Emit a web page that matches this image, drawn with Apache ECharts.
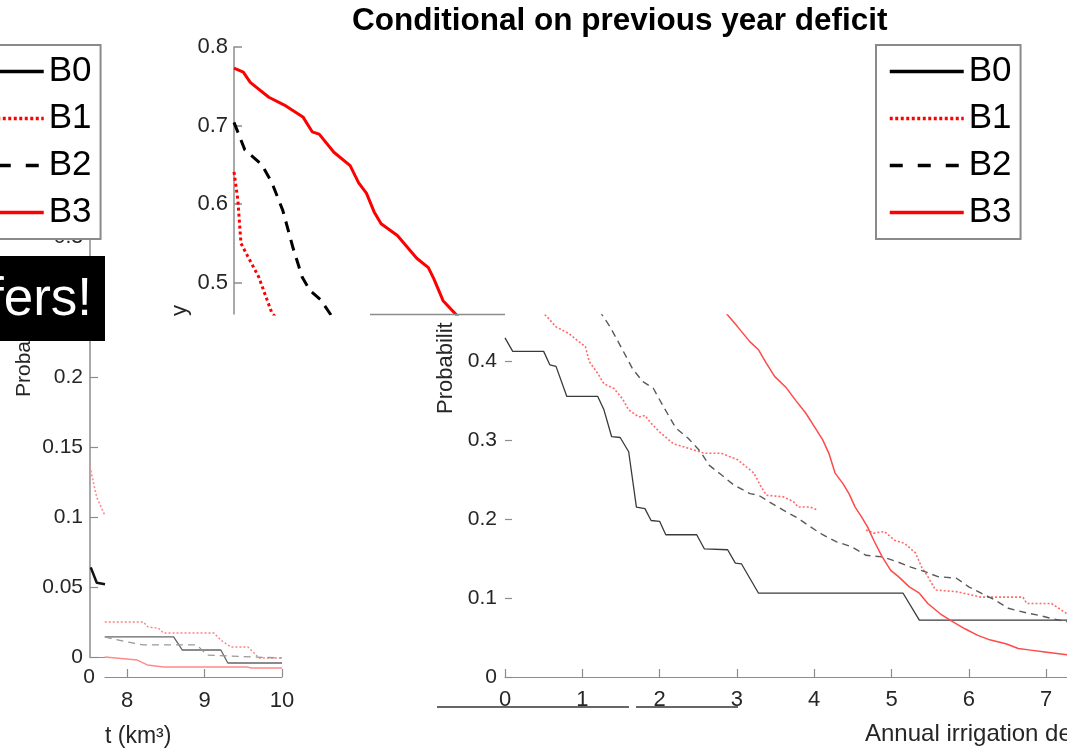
<!DOCTYPE html>
<html><head><meta charset="utf-8">
<script src="https://cdn.jsdelivr.net/npm/echarts@6/dist/echarts.min.js"></script>
<style>html,body{margin:0;padding:0;background:#fff}#c{width:1067px;height:754px}</style>
</head><body><div id="c"></div>
<script>
// ---------- data ----------
const seriesNames = ['B0', 'B1', 'B2', 'B3'];
const titleText = 'Conditional on previous year deficit';

// main chart (x: annual irrigation deficit, y: probability)
const B0 = [[0,0.429],[0.10,0.412],[0.50,0.412],[0.58,0.395],[0.66,0.393],[0.80,0.355],[1.20,0.355],[1.28,0.338],[1.38,0.304],[1.49,0.303],[1.60,0.285],[1.70,0.215],[1.81,0.213],[1.89,0.198],[2.00,0.197],[2.08,0.180],[2.48,0.180],[2.58,0.162],[2.88,0.161],[2.98,0.144],[3.06,0.143],[3.28,0.106],[5.15,0.106],[5.36,0.072],[7.40,0.072]];
const B1 = [[0,0.641],[0.05,0.605],[0.09,0.550],[0.18,0.533],[0.32,0.507],[0.49,0.461],[0.56,0.454],[0.66,0.443],[0.82,0.435],[0.96,0.424],[1.04,0.418],[1.09,0.399],[1.20,0.384],[1.28,0.371],[1.41,0.365],[1.52,0.352],[1.60,0.338],[1.73,0.329],[1.81,0.331],[1.89,0.321],[2.00,0.310],[2.18,0.295],[2.32,0.291],[2.45,0.287],[2.58,0.283],[2.80,0.283],[2.90,0.279],[3.01,0.275],[3.12,0.266],[3.22,0.258],[3.30,0.243],[3.38,0.230],[3.60,0.228],[3.73,0.222],[3.79,0.215],[3.95,0.215],[4.05,0.211],null,[4.67,0.186],[4.77,0.182],[4.91,0.184],[5.04,0.173],[5.17,0.169],[5.31,0.157],[5.39,0.139],[5.47,0.127],[5.57,0.110],[5.84,0.108],[6.16,0.101],[6.70,0.101],[6.75,0.093],[7.07,0.093],[7.27,0.080],[7.40,0.076]];
const B2 = [[0,0.704],[0.14,0.669],[0.36,0.650],[0.49,0.627],[0.63,0.592],[0.76,0.545],[0.88,0.507],[0.98,0.490],[1.12,0.478],[1.25,0.459],[1.36,0.443],[1.52,0.414],[1.65,0.390],[1.78,0.374],[1.92,0.365],[2.05,0.342],[2.21,0.315],[2.37,0.302],[2.53,0.285],[2.64,0.268],[2.77,0.258],[2.96,0.243],[3.17,0.232],[3.28,0.230],[3.41,0.222],[3.60,0.211],[3.79,0.201],[3.95,0.190],[4.11,0.180],[4.29,0.171],[4.48,0.165],[4.67,0.154],[4.88,0.152],[5.07,0.146],[5.25,0.139],[5.44,0.133],[5.60,0.127],[5.84,0.125],[6.00,0.114],[6.16,0.106],[6.33,0.098],[6.51,0.087],[6.75,0.081],[6.91,0.078],[7.07,0.074],[7.27,0.070],[7.40,0.066]];
const B3 = [[0,0.773],[0.12,0.768],[0.21,0.755],[0.45,0.736],[0.67,0.725],[0.89,0.711],[1.01,0.692],[1.10,0.689],[1.29,0.666],[1.50,0.649],[1.61,0.627],[1.71,0.614],[1.81,0.590],[1.90,0.575],[2.11,0.560],[2.36,0.531],[2.51,0.519],[2.58,0.505],[2.70,0.477],[2.88,0.458],[3.01,0.443],[3.17,0.424],[3.28,0.414],[3.38,0.397],[3.49,0.380],[3.63,0.367],[3.76,0.350],[3.89,0.334],[4.00,0.317],[4.11,0.300],[4.19,0.283],[4.27,0.258],[4.37,0.245],[4.45,0.232],[4.53,0.215],[4.61,0.203],[4.69,0.190],[4.77,0.173],[4.88,0.152],[4.99,0.135],[5.09,0.127],[5.23,0.114],[5.36,0.106],[5.47,0.093],[5.63,0.080],[5.79,0.070],[5.95,0.061],[6.11,0.053],[6.27,0.047],[6.48,0.042],[6.64,0.036],[6.80,0.034],[6.96,0.032],[7.27,0.028],[7.40,0.027]];

// left fragment: narrow strip (upper axis)
const stripB0 = [[7.51,0.064],[7.59,0.053],[7.70,0.052]];
const stripB1 = [[7.50,0.136],[7.54,0.126],[7.59,0.114],[7.70,0.101]];
// left fragment: lower piece
const lowB0 = [[7.71,0.0286],[8.60,0.0286],[8.71,0.0193],[9.21,0.0193],[9.30,0.0100],[10.0,0.0100]];
const lowB1 = [[7.71,0.0393],[8.21,0.0393],[8.27,0.0357],[8.40,0.0350],[8.47,0.0314],[9.12,0.0314],[9.21,0.0264],[9.34,0.0214],[9.56,0.0214],[9.64,0.0171],[9.70,0.0136],[10.0,0.0136]];
const lowB2 = [[7.71,0.0286],[8.00,0.0250],[8.21,0.0229],[8.90,0.0229],[9.03,0.0157],[9.60,0.0143],[10.0,0.0136]];
const lowB3 = [[7.71,0.0143],[8.13,0.0121],[8.26,0.0086],[8.47,0.0071],[9.56,0.0071],[9.60,0.0064],[10.0,0.0064]];

// tick labels
const insetYTicks = [0.5, 0.6, 0.7, 0.8];
const mainYTicks = [0, 0.1, 0.2, 0.3, 0.4];
const mainXTicks = [0, 1, 2, 3, 4, 5, 6, 7, 8];
const leftYTicks = [0, 0.05, 0.1, 0.15, 0.2, 0.25, 0.3];
const lowXTicks = [8, 9, 10];
const lowYTicks = [0];

// ---------- chart ----------
const FONT = 'Liberation Sans, Arial, Helvetica, sans-serif';
const AX = '#8c8c8c';
const TXT = '#262626';
const chart = echarts.init(document.getElementById('c'), null, {renderer: 'canvas'});

function line(name, data, xi, color, width, type, z) {
  return {
    type: 'line', name: name, data: data, xAxisIndex: xi, yAxisIndex: xi,
    symbol: 'none', showSymbol: false, clip: true, silent: true, animation: false,
    connectNulls: false, z: z || 2,
    lineStyle: {color: color, width: width, type: type || 'solid'},
    itemStyle: {color: color}
  };
}

function legendAt(left) {
  return {
    orient: 'vertical', left: left, top: 45,
    padding: [9, 9, 9, 12], itemGap: 12, itemWidth: 74, itemHeight: 2,
    backgroundColor: '#ffffff', borderColor: '#8a8a8a', borderWidth: 2,
    selectedMode: false,
    data: seriesNames.map(n => n === 'B2'
      ? {name: n, lineStyle: {type: [13, 15]}}
      : n === 'B1' ? {name: n, lineStyle: {type: [3, 2.5]}} : {name: n}),
    textStyle: {fontSize: 35, lineHeight: 35, color: '#000', fontFamily: FONT},
    itemStyle: {opacity: 0},
    lineStyle: {width: 3.5, opacity: 1},
    z: 10
  };
}

const noGridBounds = {outerBoundsMode: 'none', containLabel: false};

const option = {
  backgroundColor: '#ffffff',
  animation: false,
  title: {
    text: titleText, left: 352, top: 5, padding: 0,
    textStyle: {fontSize: 31.5, fontWeight: 'bold', color: '#000', fontFamily: FONT}
  },
  legend: [legendAt(876), legendAt(-44)],
  grid: [
    Object.assign({left: 234, top: 47, width: 271, height: 267}, noGridBounds),
    Object.assign({left: 505, top: 315, width: 618.4, height: 362}, noGridBounds),
    Object.assign({left: 90, top: 237, width: 15, height: 420}, noGridBounds),
    Object.assign({left: 105, top: 607, width: 177, height: 70}, noGridBounds)
  ],
  xAxis: [
    {gridIndex: 0, type: 'value', min: 0, max: 3.5, show: false},
    {gridIndex: 1, type: 'value', min: 0, max: 8, splitLine: {show: false},
      axisLine: {show: true, lineStyle: {color: AX, width: 1.2}},
      axisTick: {show: true, inside: true, length: 8, customValues: mainXTicks, lineStyle: {color: AX, width: 1.2}},
      axisLabel: {customValues: mainXTicks, margin: 12, fontSize: 22, color: TXT, fontFamily: FONT}},
    {gridIndex: 2, type: 'value', min: 7.5, max: 7.7, splitLine: {show: false},
      axisLine: {show: true, lineStyle: {color: AX, width: 1.2}},
      axisTick: {show: false}, axisLabel: {show: false}},
    {gridIndex: 3, type: 'value', min: 7.713, max: 10, splitLine: {show: false},
      axisLine: {show: true, lineStyle: {color: AX, width: 1.2}},
      axisTick: {show: true, inside: true, length: 8, customValues: lowXTicks, lineStyle: {color: AX, width: 1.2}},
      axisLabel: {customValues: lowXTicks, margin: 13, fontSize: 22, color: TXT, fontFamily: FONT}}
  ],
  yAxis: [
    {gridIndex: 0, type: 'value', min: 0.46, max: 0.8, splitLine: {show: false},
      axisLine: {show: true, lineStyle: {color: AX, width: 1.5}},
      axisTick: {show: true, inside: true, length: 8, customValues: insetYTicks, lineStyle: {color: AX, width: 1.5}},
      axisLabel: {customValues: insetYTicks, margin: 6, fontSize: 22, color: TXT, fontFamily: FONT,
        formatter: v => v.toFixed(1)}},
    {gridIndex: 1, type: 'value', min: 0, max: 0.458, splitLine: {show: false},
      axisLine: {show: false},
      axisTick: {show: true, inside: true, length: 7, customValues: mainYTicks, lineStyle: {color: AX, width: 1.2}},
      axisLabel: {customValues: mainYTicks, margin: 8, fontSize: 21, color: TXT, fontFamily: FONT}},
    {gridIndex: 2, type: 'value', min: 0, max: 0.3, splitLine: {show: false},
      axisLine: {show: true, lineStyle: {color: AX, width: 1.5}},
      axisTick: {show: true, inside: true, length: 8, customValues: leftYTicks, lineStyle: {color: AX, width: 1.2}},
      axisLabel: {customValues: leftYTicks, margin: 7, fontSize: 21, color: TXT, fontFamily: FONT}},
    {gridIndex: 3, type: 'value', min: 0, max: 0.05, splitLine: {show: false},
      axisLine: {show: false}, axisTick: {show: false},
      axisLabel: {customValues: lowYTicks, margin: 10, fontSize: 21, color: TXT, fontFamily: FONT}}
  ],
  series: [
    // inset (upper part of the same curves, bold)
    line('B0', B0, 0, '#000000', 3, 'solid', 3),
    line('B1', B1, 0, '#ff0000', 3, [3, 3], 3),
    line('B2', B2, 0, '#000000', 3, [11, 8], 3),
    line('B3', B3, 0, '#ff0000', 3, 'solid', 3),
    // main chart (thin)
    line('B0', B0, 1, '#3a3a3a', 1.3, 'solid'),
    line('B1', B1, 1, '#ff6a6a', 1.6, [2, 2]),
    line('B2', B2, 1, '#5a5a5a', 1.4, [7, 5]),
    line('B3', B3, 1, '#ff4a4a', 1.5, 'solid'),
    // left strip
    line('B1', stripB1, 2, '#ff8c8c', 1.6, [2, 2]),
    line('B0', stripB0, 2, '#111111', 2.5, 'solid'),
    // left lower piece
    line('B1', lowB1, 3, '#ff8080', 1.4, [2, 2]),
    line('B0', lowB0, 3, '#666666', 1.3, 'solid'),
    line('B2', lowB2, 3, '#999999', 1.3, [7, 5]),
    line('B3', lowB3, 3, '#ff8a8a', 1.4, 'solid')
  ],
  graphic: [
    // remnant of the inset's lower axis
    {type: 'line', z: 50, shape: {x1: 370, y1: 314.5, x2: 505, y2: 314.5}, style: {stroke: AX, lineWidth: 1.5}},
    // axis-name fragments
    {type: 'text', z: 50, x: 180, y: 316, rotation: Math.PI / 2,
      style: {text: 'y', font: '22px ' + FONT, fill: TXT, align: 'left', verticalAlign: 'middle'}},
    {type: 'text', z: 50, x: 446, y: 414, rotation: Math.PI / 2,
      style: {text: 'Probabilit', font: '22px ' + FONT, fill: TXT, align: 'left', verticalAlign: 'middle'}},
    {type: 'text', z: 50, x: 24, y: 397, rotation: Math.PI / 2,
      style: {text: 'Probability', font: '21px ' + FONT, fill: TXT, align: 'left', verticalAlign: 'middle'}},
    // black slide banner
    {type: 'rect', z: 60, shape: {x: 0, y: 256, width: 105, height: 85}, style: {fill: '#000000'}},
    {type: 'text', z: 61, x: 92, y: 300,
      style: {text: 'fers!', font: '53px ' + FONT, fill: '#ffffff', align: 'right', verticalAlign: 'middle'}},
    // strip cutting the tick labels
    {type: 'rect', z: 60, shape: {x: 90, y: 707, width: 977, height: 13}, style: {fill: '#ffffff'}},
    {type: 'line', z: 61, shape: {x1: 437, y1: 707, x2: 629, y2: 707}, style: {stroke: '#666666', lineWidth: 2}},
    {type: 'line', z: 61, shape: {x1: 636, y1: 707, x2: 738, y2: 707}, style: {stroke: '#666666', lineWidth: 2}},
    // x-axis names
    {type: 'text', z: 50, x: 105, y: 737,
      style: {text: 't (km³)', font: '23px ' + FONT, fill: TXT, align: 'left', verticalAlign: 'middle'}},
    {type: 'text', z: 50, x: 865, y: 734,
      style: {text: 'Annual irrigation deficit (km³)', font: '24px ' + FONT, fill: TXT, align: 'left', verticalAlign: 'middle'}}
  ]
};
chart.setOption(option);
</script>
</body></html>
